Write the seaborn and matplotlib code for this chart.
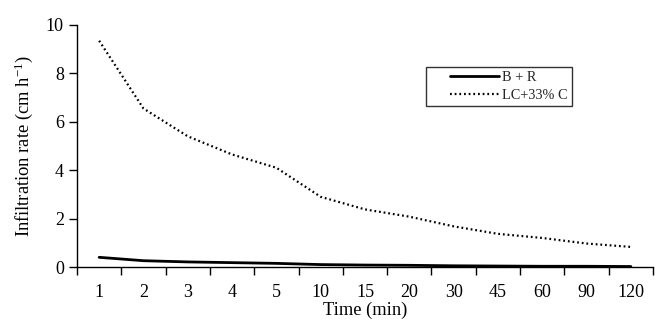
import matplotlib
matplotlib.use("Agg")
import matplotlib.pyplot as plt
import seaborn as sns
import pandas as pd
from matplotlib.lines import Line2D
from matplotlib.legend_handler import HandlerLine2D

times = ["1", "2", "3", "4", "5", "10", "15", "20", "30", "45", "60", "90", "120"]
br = [0.40, 0.26, 0.21, 0.18, 0.15, 0.10, 0.08, 0.07, 0.05, 0.04, 0.03, 0.03, 0.02]
lc33 = [9.35, 6.55, 5.40, 4.65, 4.10, 2.90, 2.38, 2.08, 1.68, 1.37, 1.20, 0.97, 0.83]
series_names = ["B + R", "LC+33% C"]

df = pd.DataFrame({
    "Time": times * 2,
    "rate": br + lc33,
    "series": [series_names[0]] * len(times) + [series_names[1]] * len(times),
})

sns.set_theme(style="white")
plt.rcParams["font.family"] = ["Liberation Serif", "DejaVu Serif"]
plt.rcParams["mathtext.fontset"] = "stix"

fig = plt.figure(figsize=(6.71, 3.28), dpi=100)
ax = fig.add_axes([77/671, 1 - 267/328, 576/671, 242/328])

DOT = (0, (0.8, 1.3))
sns.lineplot(data=df, x="Time", y="rate", hue="series", style="series",
             palette=["black", "black"], dashes=[(None, None), (1, 1.2)],
             sort=False, ax=ax, legend=False)
lines = ax.get_lines()
lines[0].set_linewidth(2.0)
lines[1].set_linewidth(1.6)
lines[1].set_linestyle(DOT)

ax.set_xlim(-0.5, len(times) - 0.5)
ax.set_ylim(0, 10)
ax.set_yticks([0, 2, 4, 6, 8, 10])
ax.set_xticks(range(len(times)))
ax.set_xticklabels(times)
ax.set_xticks([i - 0.5 for i in range(len(times) + 1)], minor=True)
ax.tick_params(axis="x", which="major", length=0, pad=12, labelsize=13, colors="black")
ax.tick_params(axis="x", which="minor", length=6, width=1, direction="out", bottom=True, color="black")
ax.tick_params(axis="y", which="major", length=6, width=1, direction="out", left=True, labelsize=13, colors="black")

for s in ["top", "right"]:
    ax.spines[s].set_visible(False)
for s in ["left", "bottom"]:
    ax.spines[s].set_color("black")
    ax.spines[s].set_linewidth(1)

ax.set_xlabel("Time (min)", fontsize=13.3, labelpad=1, color="black")
ax.set_ylabel("Infiltration rate (cm h$^{\\mathregular{-1}}$)", fontsize=13.3, labelpad=8, color="black")


class ShiftedHandler(HandlerLine2D):
    def get_xdata(self, legend, xdescent, ydescent, width, height, fontsize):
        xd, xm = super().get_xdata(legend, xdescent, ydescent, width, height, fontsize)
        start = -xdescent + 0.28 * width
        xd = [start, -xdescent + width]
        return xd, xm


handles = [Line2D([], [], color="black", lw=2.0),
           Line2D([], [], color="black", lw=1.6, linestyle=DOT)]
leg = ax.legend(handles, series_names, loc="upper left",
                bbox_to_anchor=((426 - 77) / 576, (267 - 67) / 242),
                frameon=True, fancybox=False, edgecolor="black", fontsize=10.3,
                handlelength=4.8, borderpad=0.3, labelspacing=0.3, handletextpad=0.2,
                borderaxespad=0, handler_map={Line2D: ShiftedHandler()})
leg.get_frame().set_linewidth(1)

fig.savefig("out.png", dpi=100)
